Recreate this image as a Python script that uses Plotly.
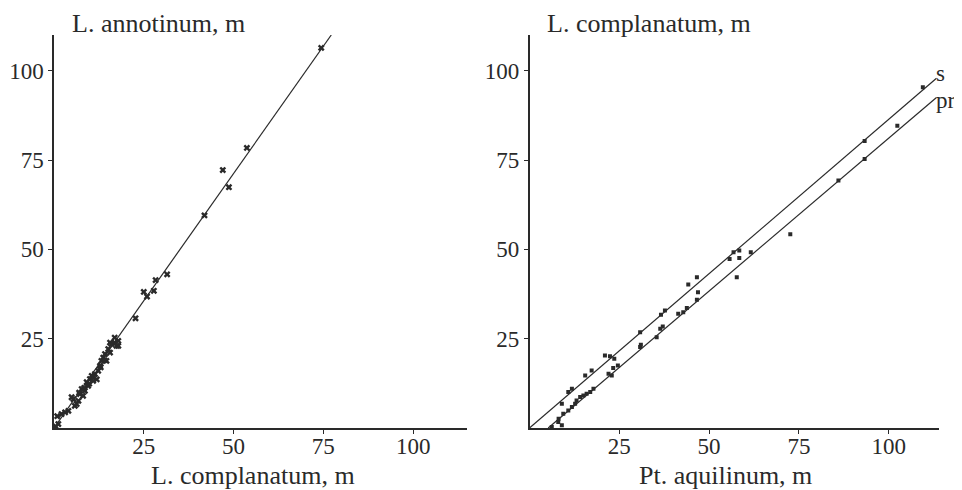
import plotly.graph_objects as go
from plotly.subplots import make_subplots

# ---- Left panel: L. complanatum (x) vs L. annotinum (y) ----
left_x = [0.9, 2.1, 3.1, 4.0, 1.2, 0.5, 4.9, 5.8, 6.8, 7.2, 7.7, 8.1, 8.6, 9.1, 9.5, 10.0,
          10.5, 10.9, 11.4, 12.3, 12.8, 13.2, 13.7, 14.2, 14.6, 15.1, 15.6, 16.0, 16.9,
          17.4, 17.9, 15.6, 5.4, 6.3, 7.0, 8.4, 9.8, 11.0, 11.9, 13.0, 14.0, 16.9, 17.9,
          22.7, 25.0, 25.9, 27.8, 28.3, 31.5, 41.9, 47.0, 48.7, 53.7, 74.4]
left_y = [3.3, 3.9, 4.4, 4.8, 1.1, 0.4, 8.6, 6.2, 7.6, 9.5, 10.9, 9.0, 10.4, 12.8, 11.8, 13.7,
          14.6, 13.2, 15.1, 16.0, 17.4, 18.8, 19.7, 20.7, 18.8, 22.1, 21.1, 23.5, 23.9,
          23.0, 24.4, 23.9, 8.1, 6.7, 9.9, 11.2, 12.4, 14.2, 13.6, 17.0, 19.0, 25.3, 23.0,
          30.7, 38.1, 36.8, 38.4, 41.4, 43.0, 59.5, 72.2, 67.4, 78.4, 106.4]
left_fit_x = [0, 77.2]
left_fit_y = [0, 110]

# ---- Right panel: Pt. aquilinum (x) vs L. complanatum (y) ----
s_x = [109.5, 93.3, 61.6, 58.4, 56.8, 55.7, 46.6, 44.2, 37.7, 36.6, 30.8, 21.0, 22.4,
       23.6, 24.6, 17.3, 15.5, 11.8, 10.8, 9.0, 8.1]
s_y = [95.4, 80.3, 49.2, 49.7, 49.2, 47.3, 42.2, 40.2, 32.9, 31.7, 26.8, 20.3, 20.1,
       19.4, 17.5, 16.1, 14.7, 11.0, 10.1, 6.8, 2.6]
pr_x = [102.4, 93.3, 86.0, 72.6, 58.4, 57.7, 46.9, 46.6, 43.8, 42.8, 41.4, 37.1, 36.4,
        35.4, 30.8, 31.0, 23.3, 22.9, 22.0, 17.8, 16.9, 15.9, 15.0, 14.1, 13.1, 12.7,
        11.8, 10.8, 9.4, 8.0, 9.0, 6.2]
pr_y = [84.6, 75.3, 69.3, 54.2, 47.6, 42.2, 38.0, 35.9, 33.6, 32.4, 32.0, 28.4, 27.8,
        25.4, 22.7, 23.3, 16.8, 14.7, 15.2, 11.0, 10.1, 9.6, 9.1, 8.7, 7.7, 6.8,
        5.9, 4.9, 4.0, 1.7, 0.8, 0.3]
s_fit_x = [0, 113.3]
s_fit_y = [0, 97.9]
pr_fit_x = [5.2, 113.3]
pr_fit_y = [0, 92.5]

tick_vals = [25, 50, 75, 100]
tick_text = ["25", "50", "75", "100"]

INK = "#2a2a2a"
FONT = "Liberation Serif"

fig = make_subplots(rows=1, cols=2, horizontal_spacing=0.0708)

fig.add_trace(go.Scatter(x=left_fit_x, y=left_fit_y, mode="lines",
                         line=dict(color=INK, width=1.2), showlegend=False,
                         hoverinfo="skip"), row=1, col=1)
fig.add_trace(go.Scatter(x=left_x, y=left_y, mode="markers",
                         marker=dict(symbol="x", size=6, color=INK,
                                     line=dict(width=0)), showlegend=False),
              row=1, col=1)

fig.add_trace(go.Scatter(x=s_fit_x, y=s_fit_y, mode="lines",
                         line=dict(color=INK, width=1.2), showlegend=False,
                         hoverinfo="skip"), row=1, col=2)
fig.add_trace(go.Scatter(x=pr_fit_x, y=pr_fit_y, mode="lines",
                         line=dict(color=INK, width=1.2), showlegend=False,
                         hoverinfo="skip"), row=1, col=2)
fig.add_trace(go.Scatter(x=s_x, y=s_y, mode="markers",
                         marker=dict(symbol="square", size=4, color=INK),
                         showlegend=False), row=1, col=2)
fig.add_trace(go.Scatter(x=pr_x, y=pr_y, mode="markers",
                         marker=dict(symbol="square", size=4, color=INK),
                         showlegend=False), row=1, col=2)

axis_common = dict(showgrid=False, zeroline=False, showline=True, linecolor=INK,
                   linewidth=1.5, ticks="outside", ticklen=4, tickwidth=1.2,
                   tickcolor=INK, tickvals=tick_vals, ticktext=tick_text,
                   automargin=False,
                   tickfont=dict(family=FONT, size=23, color=INK))

fig.update_xaxes(**axis_common)
fig.update_yaxes(**axis_common)
fig.update_xaxes(ticklabelstandoff=-7)
fig.update_xaxes(range=[0, 115], domain=[0, 0.4667], row=1, col=1)
fig.update_xaxes(range=[0, 114], domain=[0.5373, 1], row=1, col=2)
fig.update_yaxes(range=[0, 110], row=1, col=1)
fig.update_yaxes(range=[0, 110], row=1, col=2)

tfont = dict(family=FONT, size=26, color=INK)
lfont = dict(family=FONT, size=23, color=INK)
annotations = [
    dict(text="L. annotinum, m", xref="paper", yref="paper", x=0.018, y=1.0,
         xanchor="left", yanchor="bottom", yshift=-5, showarrow=False, font=tfont),
    dict(text="L. complanatum, m", xref="paper", yref="paper", x=0.5547, y=1.0,
         xanchor="left", yanchor="bottom", yshift=-5, showarrow=False, font=tfont),
    dict(text="L. complanatum, m", xref="paper", yref="paper", x=0.2245, y=0,
         xanchor="center", yanchor="bottom", yshift=-64, showarrow=False, font=tfont),
    dict(text="Pt. aquilinum, m", xref="paper", yref="paper", x=0.759, y=0,
         xanchor="center", yanchor="bottom", yshift=-64, showarrow=False, font=tfont),
    dict(text="s", xref="x2", yref="y2", x=112.6, y=99.2, xanchor="left",
         yanchor="middle", showarrow=False, font=lfont),
    dict(text="pr", xref="x2", yref="y2", x=112.6, y=91.8, xanchor="left",
         yanchor="middle", showarrow=False, font=lfont),
]

# The page body adds an 8 px margin, so the figure is 8 px smaller and offset.
fig.update_layout(width=954, height=482, plot_bgcolor="white", paper_bgcolor="white",
                  margin=dict(l=46, r=23, t=27, b=62), annotations=annotations,
                  font=dict(family=FONT, color=INK))

fig.write_html("out.html")
